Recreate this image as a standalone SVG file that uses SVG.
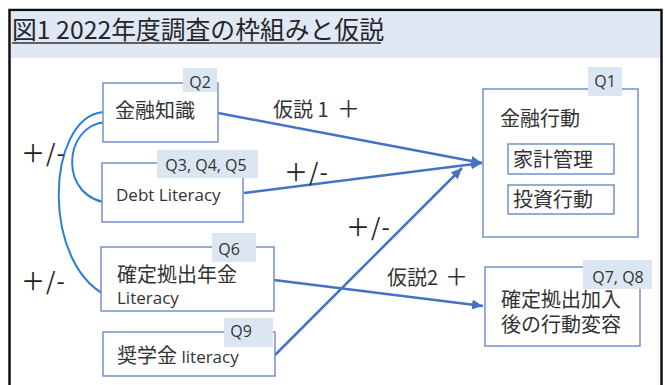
<svg xmlns="http://www.w3.org/2000/svg" width="665" height="385" viewBox="0 0 665 385">
<style>
.box{fill:#fff;stroke:#7391c7;stroke-width:1.5}
.qbg{fill:#dce6f3}
.jp{font-family:"Noto Sans CJK JP","Noto Sans",sans-serif;fill:#333;font-size:20px}
.lat{font-family:"Open Sans","Noto Sans","Noto Sans CJK JP",sans-serif;fill:#333;font-size:17px}
.q{font-family:"Open Sans","Noto Sans",sans-serif;fill:#333;font-size:16px;text-anchor:middle}
.sign{font-family:"Noto Sans CJK JP","Noto Sans",sans-serif;fill:#222;font-size:24px;letter-spacing:1px}
.arr{stroke:#4472c4;stroke-width:2.5;fill:none;marker-end:url(#ah)}
.crv{stroke:#2a7fd4;stroke-width:2;fill:none}
</style>
<defs>
<marker id="ah" markerUnits="userSpaceOnUse" markerWidth="12" markerHeight="10" refX="11" refY="5" orient="auto">
<path d="M0,0 L11,5 L0,10 Z" fill="#4472c4"/>
</marker>
</defs>
<rect x="0" y="0" width="665" height="385" fill="#fff"/>
<rect x="9.5" y="10" width="652" height="400" fill="none" stroke="#111" stroke-width="2.5"/>
<rect x="11" y="11.5" width="649" height="46.5" fill="#dfe8f4"/>
<text x="12" y="39" font-family="Noto Sans CJK JP,Noto Sans,sans-serif" font-size="24.8" fill="#262626">図1 2022年度調査の枠組みと仮説</text>
<line x1="12" y1="43" x2="381" y2="43" stroke="#333" stroke-width="1.5"/>

<g id="connectors">
<path class="arr" d="M218,113 L482,163"/>
<path class="arr" d="M244,193 L482,163"/>
<path class="arr" d="M275,355 L462,168"/>
<path class="arr" d="M274,280 L483,306"/>
<path class="crv" d="M103,112 C45,118 40,270 112,298"/>
<path class="crv" d="M106,122 C62,125 58,200 111,203"/>
<text class="jp" x="273" y="117" font-size="18">仮説 1<tspan x="337" font-size="23">＋</tspan></text>
<text class="sign" x="284" y="181">＋/-</text>
<text class="sign" x="346" y="236">＋/-</text>
<text class="jp" x="387" y="285" font-size="18">仮説2<tspan x="445" font-size="23">＋</tspan></text>
<text class="sign" x="21" y="162">＋/-</text>
<text class="sign" x="21" y="290">＋/-</text>
</g>

<g id="n-kinyu-chishiki">
<rect class="box" x="103" y="83" width="115" height="59"/>
<rect class="qbg" x="183" y="68" width="34" height="24"/>
<text class="q" x="200" y="88">Q2</text>
<text class="jp" x="115" y="118">金融知識</text>
</g>

<g id="n-debt">
<rect class="box" x="102" y="163" width="141" height="59"/>
<rect class="qbg" x="157" y="150" width="101" height="28"/>
<text class="q" x="206" y="171" font-size="17">Q3, Q4, Q5</text>
<text class="lat" x="116" y="201">Debt Literacy</text>
</g>

<g id="n-dc-literacy">
<rect class="box" x="101" y="247" width="173" height="64"/>
<rect class="qbg" x="212" y="233" width="44" height="29"/>
<text class="q" x="229" y="255">Q6</text>
<text class="jp" x="117" y="282">確定拠出年金<tspan class="lat" x="117" y="304" font-size="17">Literacy</tspan></text>
</g>

<g id="n-scholarship">
<rect class="box" x="103" y="332" width="172" height="44"/>
<rect class="qbg" x="224" y="318" width="49" height="29"/>
<text class="q" x="241" y="337">Q9</text>
<text class="jp" x="117" y="363">奨学金 <tspan class="lat" font-size="17">literacy</tspan></text>
</g>

<g id="n-kinyu-kodo">
<rect class="box" x="483" y="89" width="155" height="148"/>
<rect class="qbg" x="588" y="67" width="34" height="29"/>
<text class="q" x="605" y="87">Q1</text>
<text class="jp" x="500" y="126">金融行動</text>
<g id="n-kakei">
<rect class="box" x="508" y="144" width="106" height="30"/>
<text class="jp" x="513" y="167">家計管理</text>
</g>
<g id="n-toshi">
<rect class="box" x="508" y="185" width="106" height="29"/>
<text class="jp" x="513" y="207">投資行動</text>
</g>
</g>

<g id="n-henyo">
<rect class="box" x="485" y="267" width="155" height="79"/>
<rect class="qbg" x="583" y="260" width="69" height="29"/>
<text class="q" x="618" y="283">Q7, Q8</text>
<text class="jp" x="501" y="307">確定拠出加入<tspan x="501" y="332">後の行動変容</tspan></text>
</g>
</svg>
